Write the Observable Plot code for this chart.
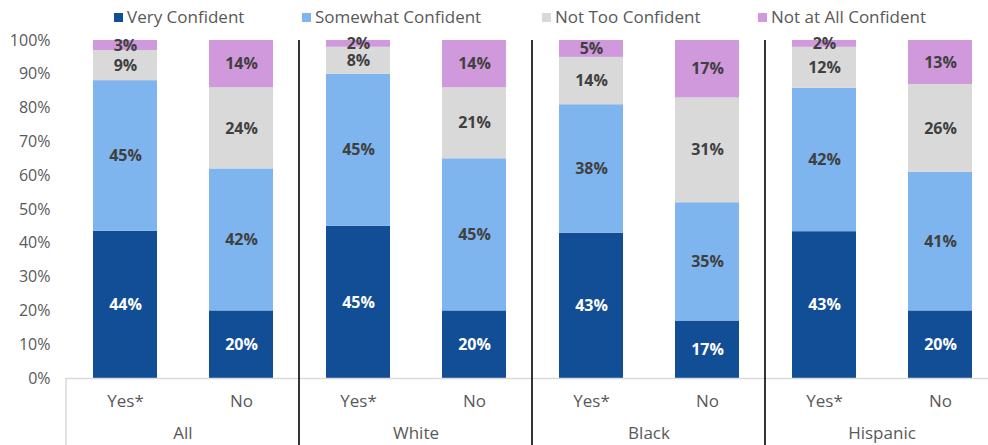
<!DOCTYPE html>
<html><head><meta charset="utf-8">
<script src="https://cdn.jsdelivr.net/npm/d3@7"></script>
<script src="https://cdn.jsdelivr.net/npm/@observablehq/plot@0.6"></script>
<style>
body{margin:0;background:#fff;overflow:hidden;font-family:"Open Sans",sans-serif;}
#legend{position:relative;height:25px;width:988px;}
.item{position:absolute;top:7px;font-size:17px;color:#595959;line-height:20px;white-space:nowrap;}
.sw{position:absolute;left:-13px;top:6px;width:9px;height:9px;}
</style></head><body>
<div id="legend"></div><div id="chart"></div>
<script>
const groups = ["All", "White", "Black", "Hispanic"];
const answers = ["Yes*", "No"];
const series = ["Very Confident", "Somewhat Confident", "Not Too Confident", "Not at All Confident"];
const colors = ["#124E96", "#7FB5EE", "#D9D9D9", "#CF99DC"];
// values per bar, order: All Yes*, All No, White Yes*, White No, Black Yes*, Black No, Hispanic Yes*, Hispanic No
const veryConfident     = [44, 20, 45, 20, 43, 17, 43, 20];
const somewhatConfident = [45, 42, 45, 45, 38, 35, 42, 41];
const notTooConfident   = [9, 24, 8, 21, 14, 31, 12, 26];
const notAtAllConfident = [3, 14, 2, 14, 5, 17, 2, 13];
const yTicks = [0, 0.1, 0.2, 0.3, 0.4, 0.5, 0.6, 0.7, 0.8, 0.9, 1];

const seriesValues = [veryConfident, somewhatConfident, notTooConfident, notAtAllConfident];
const rows = [];
groups.forEach((g, i) => answers.forEach((a, j) => {
  const k = i * 2 + j;
  series.forEach((s, si) => rows.push({group: g, answer: a, series: s, value: seriesValues[si][k]}));
}));

// legend
const legendLefts = [127, 315, 555, 771];
const legend = document.getElementById("legend");
series.forEach((s, i) => {
  const it = document.createElement("div");
  it.className = "item";
  it.style.left = legendLefts[i] + "px";
  const sw = document.createElement("span");
  sw.className = "sw";
  sw.style.background = colors[i];
  it.appendChild(sw);
  it.appendChild(document.createTextNode(s));
  legend.appendChild(it);
});

const stackOpts = {offset: "normalize"};
const base = {fx: "group", x: "answer", y: "value", z: "series"};
const H = 420;
const chart = Plot.plot({
  width: 988, height: H,
  marginTop: 15, marginLeft: 66, marginRight: -10, marginBottom: 67,
  style: {fontFamily: "Open Sans", fontSize: "16px", color: "#595959", background: "white"},
  fx: {domain: groups, padding: 0, label: null},
  x: {domain: answers, paddingInner: 0.45, paddingOuter: 0.225, label: null},
  y: {domain: [0, 1], label: null},
  color: {domain: series, range: colors},
  marks: [
    Plot.barY(rows, Plot.stackY(stackOpts, {...base, fill: "series"})),
    Plot.text(rows, Plot.stackY(stackOpts, {...base, text: d => d.series === series[0] ? d.value + "%" : "", fill: "white", fontWeight: "bold", fontSize: 16})),
    Plot.text(rows, Plot.stackY(stackOpts, {...base, text: d => d.series !== series[0] ? d.value + "%" : "", fill: "#404040", fontWeight: "bold", fontSize: 16})),
    Plot.ruleY([0], {stroke: "#D9D9D9", strokeWidth: 1.5}),
    Plot.axisY({ticks: yTicks, tickFormat: d3.format(".0%"), tickSize: 0, tickPadding: 16, fontSize: 16}),
    Plot.axisX({tickSize: 0, tickPadding: 16, fontSize: 17}),
    Plot.axisFx({anchor: "bottom", tickSize: 0, tickPadding: 48, fontSize: 17})
  ]
});
document.getElementById("chart").appendChild(chart);

// group separators using the plot's scales
const fx = chart.scale("fx"), y = chart.scale("y");
const svg = d3.select(chart);
groups.forEach((g, i) => {
  const xpos = fx.apply(g);
  svg.append("line")
    .attr("x1", xpos).attr("x2", xpos)
    .attr("y1", i === 0 ? y.apply(0) : y.apply(1)).attr("y2", H)
    .attr("stroke", i === 0 ? "#D9D9D9" : "#000")
    .attr("stroke-width", i === 0 ? 1.5 : 1.6);
});
</script>
</body></html>
